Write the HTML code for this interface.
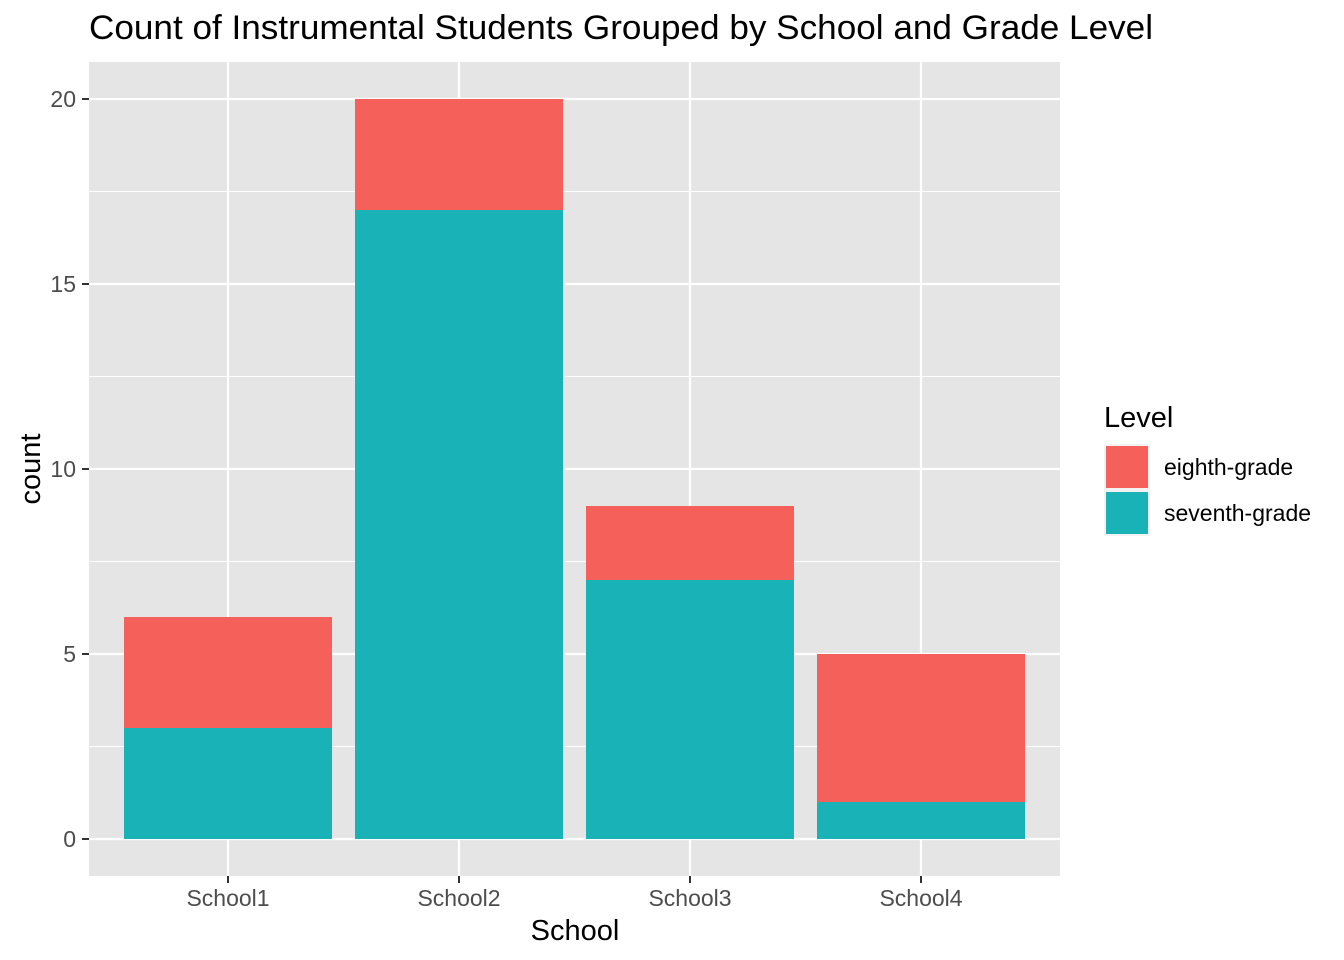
<!DOCTYPE html>
<html><head><meta charset="utf-8"><style>
body{margin:0;background:#fff;}
svg{display:block;font-family:"Liberation Sans",Arial,sans-serif;}
</style></head><body>
<svg id="chart" width="1344" height="960" xmlns="http://www.w3.org/2000/svg">
<text x="89" y="39" font-size="34" textLength="1064" lengthAdjust="spacingAndGlyphs" fill="#000">Count of Instrumental Students Grouped by School and Grade Level</text>
<rect x="89" y="62" width="971" height="814" fill="#e5e5e5"/>
<g id="grid"></g><g id="bars"></g><g id="axes"></g>
<text x="575" y="940" font-size="29" text-anchor="middle">School</text>
<text transform="translate(40,469) rotate(-90)" font-size="29" text-anchor="middle">count</text>
<g>
<text x="1104" y="427" font-size="29">Level</text>
<rect x="1105" y="445" width="44" height="44" fill="#f5605a" stroke="#f2f2f2" stroke-width="2"/>
<rect x="1105" y="491" width="44" height="44" fill="#19b3b7" stroke="#f2f2f2" stroke-width="2"/>
<text x="1164" y="475" font-size="23">eighth-grade</text>
<text x="1164" y="521" font-size="23">seventh-grade</text>
</g>
</svg>
<script>
const categories=["School1","School2","School3","School4"];
const seventh=[3,17,7,1];
const eighth=[3,3,2,4];
const yTicks=[0,5,10,15,20];
const NS="http://www.w3.org/2000/svg";
const y=v=>839-v*37;
const x=i=>228+i*231;
const bw=208;
function mk(tag,attrs,parent){const e=document.createElementNS(NS,tag);for(const k in attrs)e.setAttribute(k,attrs[k]);document.getElementById(parent).appendChild(e);return e;}
for(let t=2.5;t<=20;t+=5){const l=mk('line',{x1:89,x2:1060,y1:y(t),y2:y(t),stroke:'#fff','stroke-width':1.1},'grid');

}
yTicks.forEach(t=>{const l=mk('line',{x1:89,x2:1060,y1:y(t),y2:y(t),stroke:'#fff','stroke-width':2.2},'grid');


const tk=mk('line',{x1:82,x2:89,y1:y(t),y2:y(t),stroke:'#333','stroke-width':2},'axes');


const tx=mk('text',{x:76,y:y(t)+8,'font-size':23,'text-anchor':'end',fill:'#4d4d4d'},'axes');tx.textContent=t;

});
categories.forEach((c,i)=>{const g=mk('line',{x1:x(i),x2:x(i),y1:62,y2:876,stroke:'#fff','stroke-width':2.2},'grid');


const s=mk('rect',{x:x(i)-bw/2,y:y(seventh[i]),width:bw,height:y(0)-y(seventh[i]),fill:'#19b3b7'},'bars');


const e=mk('rect',{x:x(i)-bw/2,y:y(seventh[i]+eighth[i]),width:bw,height:y(seventh[i])-y(seventh[i]+eighth[i]),fill:'#f5605a'},'bars');


const tk=mk('line',{x1:x(i),x2:x(i),y1:876,y2:883,stroke:'#333','stroke-width':2},'axes');


const tx=mk('text',{x:x(i),y:906,'font-size':23,'text-anchor':'middle',fill:'#4d4d4d'},'axes');tx.textContent=c;

});
</script>
</body></html>
